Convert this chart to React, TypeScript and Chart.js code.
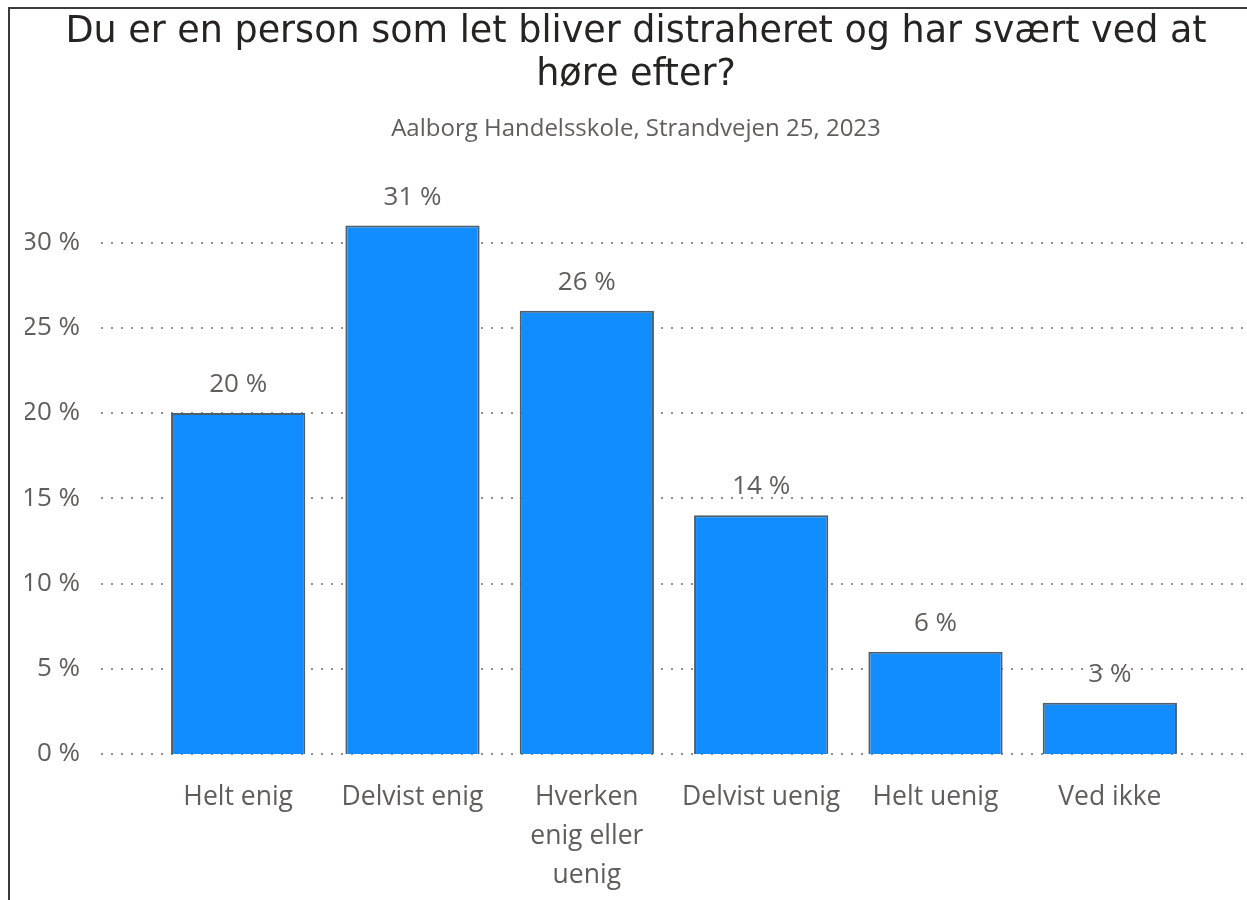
import React, { useEffect, useRef } from 'react';
import { Chart, registerables } from 'chart.js';

Chart.register(...registerables);

const categories: (string | string[])[] = [
  'Helt enig',
  'Delvist enig',
  ['Hverken', 'enig eller', 'uenig'],
  'Delvist uenig',
  'Helt uenig',
  'Ved ikke',
];
const values = [20, 31, 26, 14, 6, 3];
const yTicks = [0, 5, 10, 15, 20, 25, 30];
const titleLines = ['Du er en person som let bliver distraheret og har svært ved at', 'høre efter?'];
const subtitleText = 'Aalborg Handelsskole, Strandvejen 25, 2023';

const labelFont = 'Open Sans';
const grayText = '#605E5C';

const dotGridPlugin = {
  id: 'dotGrid',
  beforeDatasetsDraw(chart: any) {
    const y = chart.scales.y;
    const ctx = chart.ctx;
    ctx.save();
    ctx.setLineDash([2, 8]);
    ctx.lineWidth = 2;
    ctx.strokeStyle = '#8f8f8f';
    y.ticks.forEach((t: any) => {
      const py = Math.round(y.getPixelForValue(t.value));
      ctx.beginPath();
      ctx.moveTo(101, py);
      ctx.lineTo(chart.width, py);
      ctx.stroke();
    });
    ctx.restore();
  },
};

const valueLabelPlugin = {
  id: 'valueLabels',
  afterDatasetsDraw(chart: any) {
    const ctx = chart.ctx;
    const meta = chart.getDatasetMeta(0);
    ctx.save();
    ctx.font = `26px "${labelFont}"`;
    ctx.fillStyle = grayText;
    ctx.textAlign = 'center';
    ctx.textBaseline = 'alphabetic';
    meta.data.forEach((bar: any, i: number) => {
      ctx.fillText(`${values[i]} %`, bar.x, bar.y - 21);
    });
    ctx.restore();
  },
};

export default function App() {
  const ref = useRef<HTMLCanvasElement | null>(null);

  useEffect(() => {
    if (!ref.current) return;
    const chart = new Chart(ref.current, {
      type: 'bar',
      data: {
        labels: categories,
        datasets: [
          {
            data: values,
            backgroundColor: '#118DFF',
            borderColor: '#4d5e6c',
            borderWidth: 2,
            barPercentage: 0.77,
            categoryPercentage: 1,
          },
        ],
      },
      options: {
        animation: false,
        responsive: false,
        maintainAspectRatio: false,
        layout: { padding: { left: 25, right: 0, top: 0, bottom: 0 } },
        plugins: {
          legend: { display: false },
          tooltip: { enabled: false },
          title: {
            display: true,
            text: titleLines,
            color: '#252423',
            font: { family: 'DejaVu Sans', size: 36.5, weight: 'normal', lineHeight: 1.19 },
            padding: { top: 10.7, bottom: 0 },
          },
          subtitle: {
            display: true,
            text: subtitleText,
            color: grayText,
            font: { family: labelFont, size: 24, weight: 'normal', lineHeight: 1.2 },
            padding: { top: 17.5, bottom: 64.6 },
          },
        },
        scales: {
          x: {
            offset: true,
            grid: { display: false, drawTicks: false },
            border: { display: false },
            ticks: {
              color: grayText,
              font: { family: labelFont, size: 26.5, lineHeight: 1.47 },
              padding: 24,
              maxRotation: 0,
              minRotation: 0,
              autoSkip: false,
            },
            afterFit: (s: any) => {
              s.height = 146;
            },
          },
          y: {
            min: 0,
            max: 32,
            grid: { display: false, drawTicks: false },
            border: { display: false },
            ticks: {
              stepSize: 5,
              padding: 71,
              color: grayText,
              font: { family: labelFont, size: 26 },
              callback: (v: any) => `${v} %`,
            },
            afterBuildTicks: (s: any) => {
              s.ticks = s.ticks.filter((t: any) => yTicks.includes(t.value));
            },
            afterFit: (s: any) => {
              s.width = 126;
            },
          },
          y2: {
            position: 'right',
            grid: { display: false, drawTicks: false },
            border: { display: false },
            ticks: { display: false },
            afterFit: (s: any) => {
              s.width = 50;
            },
          },
        },
      },
      plugins: [dotGridPlugin, valueLabelPlugin],
    } as any);
    return () => chart.destroy();
  }, []);

  return (
    <div
      style={{
        position: 'absolute',
        left: 0,
        top: 0,
        width: 1247,
        height: 900,
        overflow: 'hidden',
        background: '#ffffff',
      }}
    >
      <div
        style={{
          position: 'absolute',
          left: 8,
          top: 7,
          width: 1300,
          height: 1000,
          borderTop: '2px solid #3a3a3a',
          borderLeft: '2px solid #3a3a3a',
        }}
      />
      <canvas
        ref={ref}
        width={1247}
        height={900}
        style={{ position: 'absolute', left: 0, top: 0, width: 1247, height: 900 }}
      />
    </div>
  );
}
